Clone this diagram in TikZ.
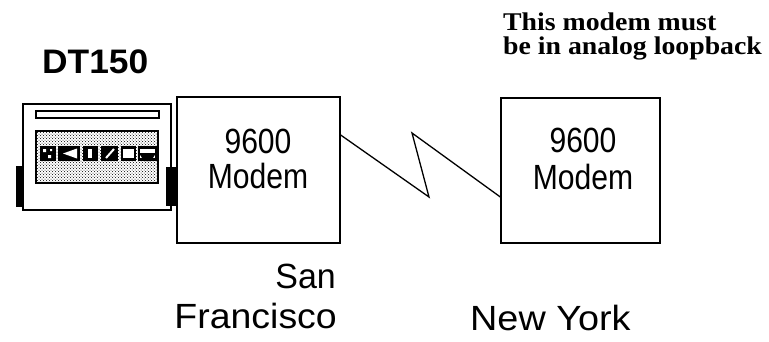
\documentclass[tikz,border=0pt]{standalone}
\usepackage{fontspec}
\usepackage{graphicx}
\usetikzlibrary{patterns}
\newfontfamily\labelsans{Liberation Sans}
\newfontfamily\noteserif{Liberation Serif}
\begin{document}
\begin{tikzpicture}[x=1pt,y=-1pt,
  modembox/.style={draw,line width=1.3pt,minimum width=#1,minimum height=145pt,inner sep=0pt},
  devline/.style={line width=1.8pt},
  bigsans/.style={font=\labelsans\fontsize{35}{38}\selectfont,inner sep=0pt},
  note/.style={font=\noteserif\bfseries\fontsize{25.5}{23.5}\selectfont,inner sep=0pt,align=left},
  link/.style={line width=1.3pt,line join=miter}]
\useasboundingbox (0,0) rectangle (769,341);

% ---- DT150 test set ----
\node[draw,devline,minimum width=148pt,minimum height=106pt,inner sep=0pt] (dev) at (97,157) {};
\draw[line width=1.4pt] (36,111) rectangle (159,118);
\draw[line width=1.4pt,pattern=crosshatch dots] (36,131) rectangle (158,183);
% front panel keys
\fill (40,146) rectangle (56,161);
\fill[white] (43,149) rectangle (46,152) (48,155) rectangle (51,158) (50,149) rectangle (52,151);
\fill (58,146) rectangle (80,161);
\fill[white] (63,153.5) -- (77,148.5) -- (77,158.5) -- cycle;
\fill (83,146) rectangle (98,161);
\fill[white] (88,149) rectangle (92,158);
\fill (101,146) rectangle (118,161);
\draw[white,line width=2pt] (106,158) -- (114,149);
\draw[line width=2.2pt,fill=white] (122,147.5) rectangle (135,159.5);
\draw[line width=2.2pt,fill=white] (139,147.5) rectangle (156,159.5);
\fill (139,153) -- (156,153) -- (151,161) -- (144,161) -- cycle;
% side connectors
\fill (16,166) rectangle (23,207);
\fill (166,167) rectangle (178,206);

\node[bigsans,font=\labelsans\bfseries\fontsize{34}{36}\selectfont,anchor=base west] (devname) at (42,73) {\scalebox{1.04}[1]{DT150}};

% ---- modems ----
\node[modembox=163pt,minimum height=146pt] (modemA) at (258.5,170) {};
\node[modembox=159pt] (modemB) at (580.5,170.5) {};

\node[bigsans,anchor=base] (modemAtop) at (258,153) {\scalebox{0.86}[1]{9600}};
\node[bigsans,anchor=base] (modemAbot) at (258,188) {\scalebox{0.86}[1]{Modem}};
\node[bigsans,anchor=base] (modemBtop) at (583,152) {\scalebox{0.86}[1]{9600}};
\node[bigsans,anchor=base] (modemBbot) at (583,189) {\scalebox{0.86}[1]{Modem}};

% ---- phone line between the modems ----
\coordinate (zzlow) at (429,197);
\coordinate (zzhigh) at (412,133);
\draw[link] ([yshift=35pt]modemA.east) -- (zzlow) -- (zzhigh) -- ([yshift=-26.5pt]modemB.west);

% ---- site names ----
\node[bigsans,anchor=base east] (sfsan) at (336,288) {\scalebox{0.97}[1]{San}};
\node[bigsans,anchor=base east] (sffran) at (337,328) {\scalebox{1.07}[1]{Francisco}};
\node[bigsans,anchor=base west] (nyc) at (470,330) {\scalebox{1.08}[1]{New York}};

% ---- note (base anchor sits on the last line) ----
\node[note,anchor=base west] (note) at (503,54)
  {\scalebox{1.09}[1]{This modem must}\\\scalebox{1.09}[1]{be in analog loopback}};
\end{tikzpicture}
\end{document}
